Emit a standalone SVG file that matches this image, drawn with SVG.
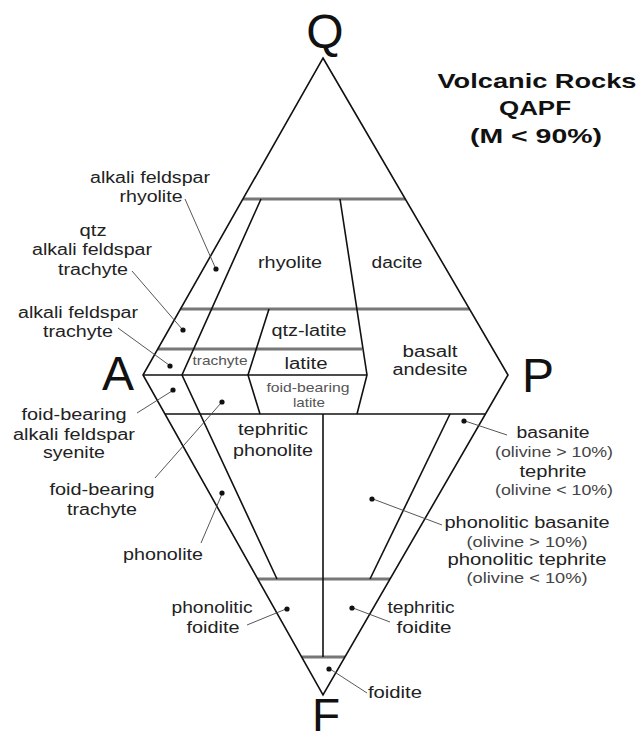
<svg xmlns="http://www.w3.org/2000/svg" width="639" height="742" viewBox="0 0 639 742">
<style>
text{font-family:"Liberation Sans",Arial,Helvetica,sans-serif;text-anchor:middle;}
.big{font-size:48px;fill:#111;}
.title{font-size:21px;font-weight:bold;fill:#111;}
.lb{font-size:16px;fill:#222;}
.sm{font-size:13px;fill:#555;}
.ol{font-size:14px;fill:#444;}
.edge{fill:none;stroke:#111;stroke-width:1.6;stroke-linejoin:miter;}
.gl{stroke:#777;stroke-width:3;}
.bl{fill:none;stroke:#111;stroke-width:1.6;}
.ld{stroke:#444;stroke-width:0.9;fill:none;}
.dot{fill:#111;}
</style>
<rect width="639" height="742" fill="#fff"/>
<g id="frame">
<line class="gl" x1="243" y1="199" x2="405" y2="199"/>
<line class="gl" x1="180.5" y1="309" x2="469.5" y2="309"/>
<line class="gl" x1="158" y1="349" x2="362" y2="349"/>
<line class="gl" x1="258" y1="579" x2="390" y2="579"/>
<line class="gl" x1="302" y1="657" x2="345" y2="657"/>
<line class="bl" x1="143" y1="375" x2="367" y2="375"/>
<line class="bl" x1="165" y1="414" x2="485.5" y2="414"/>
<polyline class="bl" points="261,199 182,375 277,579"/>
<polyline class="bl" points="269,309 248,375 260,414"/>
<polyline class="bl" points="340,199 367,375 357,414"/>
<line class="bl" x1="323" y1="414" x2="323" y2="657"/>
<line class="bl" x1="450" y1="414" x2="370" y2="579"/>
<polygon class="edge" points="323,58 508,375 323,695 143,375"/>
</g>
<g id="vertex-labels">
<text class="big" x="325" y="48">Q</text>
<text class="big" x="118" y="390">A</text>
<text class="big" x="538" y="392">P</text>
<text class="big" x="326" y="731" style="font-size:46px">F</text>
</g>
<g id="title">
<text class="title" x="537" y="88" textLength="199" lengthAdjust="spacingAndGlyphs">Volcanic Rocks</text>
<text class="title" x="535" y="115" textLength="72" lengthAdjust="spacingAndGlyphs">QAPF</text>
<text class="title" x="536" y="143" textLength="132" lengthAdjust="spacingAndGlyphs">(M &lt; 90%)</text>
</g>
<g id="connectors">
<line class="ld" x1="185" y1="199" x2="215" y2="267"/>
<line class="ld" x1="132" y1="271" x2="182" y2="329"/>
<line class="ld" x1="118" y1="328" x2="169" y2="365"/>
<line class="ld" x1="137" y1="413" x2="172" y2="391"/>
<line class="ld" x1="155" y1="478" x2="221" y2="403"/>
<line class="ld" x1="201" y1="543" x2="222" y2="494"/>
<line class="ld" x1="507" y1="435" x2="465" y2="421"/>
<line class="ld" x1="442" y1="525" x2="373" y2="499"/>
<line class="ld" x1="247" y1="625" x2="286" y2="609"/>
<line class="ld" x1="390" y1="622" x2="353" y2="608"/>
<line class="ld" x1="367" y1="693" x2="330" y2="669"/>
</g>
<g id="alkali-feldspar-rhyolite">
<text class="lb" x="150" y="183" textLength="120" lengthAdjust="spacingAndGlyphs">alkali feldspar</text>
<text class="lb" x="151" y="202" textLength="63" lengthAdjust="spacingAndGlyphs">rhyolite</text>
<circle class="dot" cx="216" cy="269" r="2.6"/>
</g>
<g id="qtz-alkali-feldspar-trachyte">
<text class="lb" x="93" y="236" textLength="27" lengthAdjust="spacingAndGlyphs">qtz</text>
<text class="lb" x="92" y="255" textLength="120" lengthAdjust="spacingAndGlyphs">alkali feldspar</text>
<text class="lb" x="93" y="275" textLength="70" lengthAdjust="spacingAndGlyphs">trachyte</text>
<circle class="dot" cx="183" cy="330" r="2.6"/>
</g>
<g id="alkali-feldspar-trachyte">
<text class="lb" x="78" y="318" textLength="120" lengthAdjust="spacingAndGlyphs">alkali feldspar</text>
<text class="lb" x="78" y="337" textLength="70" lengthAdjust="spacingAndGlyphs">trachyte</text>
<circle class="dot" cx="170" cy="366" r="2.6"/>
</g>
<g id="foid-bearing-alkali-feldspar-syenite">
<text class="lb" x="74" y="420" textLength="105" lengthAdjust="spacingAndGlyphs">foid-bearing</text>
<text class="lb" x="74" y="440" textLength="122" lengthAdjust="spacingAndGlyphs">alkali feldspar</text>
<text class="lb" x="74" y="458" textLength="62" lengthAdjust="spacingAndGlyphs">syenite</text>
<circle class="dot" cx="173" cy="390" r="2.6"/>
</g>
<g id="foid-bearing-trachyte">
<text class="lb" x="102" y="495" textLength="105" lengthAdjust="spacingAndGlyphs">foid-bearing</text>
<text class="lb" x="102" y="515" textLength="70" lengthAdjust="spacingAndGlyphs">trachyte</text>
<circle class="dot" cx="222" cy="402" r="2.6"/>
</g>
<g id="phonolite">
<text class="lb" x="163" y="560" textLength="80" lengthAdjust="spacingAndGlyphs">phonolite</text>
<circle class="dot" cx="222" cy="493" r="2.6"/>
</g>
<g id="rhyolite">
<text class="lb" x="290" y="268" textLength="64" lengthAdjust="spacingAndGlyphs">rhyolite</text>
</g>
<g id="dacite">
<text class="lb" x="397" y="268" textLength="51" lengthAdjust="spacingAndGlyphs">dacite</text>
</g>
<g id="qtz-latite">
<text class="lb" x="309" y="336" textLength="75" lengthAdjust="spacingAndGlyphs">qtz-latite</text>
</g>
<g id="latite">
<text class="lb" x="306" y="369" textLength="43" lengthAdjust="spacingAndGlyphs">latite</text>
</g>
<g id="trachyte">
<text class="sm" x="220" y="365" textLength="55" lengthAdjust="spacingAndGlyphs">trachyte</text>
</g>
<g id="foid-bearing-latite">
<text class="sm" x="308" y="392" textLength="83" lengthAdjust="spacingAndGlyphs">foid-bearing</text>
<text class="sm" x="309" y="407" textLength="32" lengthAdjust="spacingAndGlyphs">latite</text>
</g>
<g id="basalt-andesite">
<text class="lb" x="430" y="357" textLength="55" lengthAdjust="spacingAndGlyphs">basalt</text>
<text class="lb" x="430" y="375" textLength="75" lengthAdjust="spacingAndGlyphs">andesite</text>
</g>
<g id="tephritic-phonolite">
<text class="lb" x="273" y="435" textLength="70" lengthAdjust="spacingAndGlyphs">tephritic</text>
<text class="lb" x="273" y="456" textLength="80" lengthAdjust="spacingAndGlyphs">phonolite</text>
</g>
<g id="basanite-tephrite">
<text class="lb" x="553" y="438" textLength="73" lengthAdjust="spacingAndGlyphs">basanite</text>
<text class="ol" x="554" y="457" textLength="118" lengthAdjust="spacingAndGlyphs">(olivine &gt; 10%)</text>
<text class="lb" x="553" y="477" textLength="67" lengthAdjust="spacingAndGlyphs">tephrite</text>
<text class="ol" x="554" y="495" textLength="118" lengthAdjust="spacingAndGlyphs">(olivine &lt; 10%)</text>
<circle class="dot" cx="464" cy="421" r="2.6"/>
</g>
<g id="phonolitic-basanite-tephrite">
<text class="lb" x="527" y="528" textLength="165" lengthAdjust="spacingAndGlyphs">phonolitic basanite</text>
<text class="ol" x="527" y="547" textLength="121" lengthAdjust="spacingAndGlyphs">(olivine &gt; 10%)</text>
<text class="lb" x="527" y="565" textLength="159" lengthAdjust="spacingAndGlyphs">phonolitic tephrite</text>
<text class="ol" x="527" y="583" textLength="121" lengthAdjust="spacingAndGlyphs">(olivine &lt; 10%)</text>
<circle class="dot" cx="372" cy="499" r="2.6"/>
</g>
<g id="phonolitic-foidite">
<text class="lb" x="212" y="613" textLength="81" lengthAdjust="spacingAndGlyphs">phonolitic</text>
<text class="lb" x="213" y="633" textLength="53" lengthAdjust="spacingAndGlyphs">foidite</text>
<circle class="dot" cx="287" cy="609" r="2.6"/>
</g>
<g id="tephritic-foidite">
<text class="lb" x="421" y="613" textLength="67" lengthAdjust="spacingAndGlyphs">tephritic</text>
<text class="lb" x="424" y="633" textLength="55" lengthAdjust="spacingAndGlyphs">foidite</text>
<circle class="dot" cx="352" cy="608" r="2.6"/>
</g>
<g id="foidite">
<text class="lb" x="395" y="698" textLength="54" lengthAdjust="spacingAndGlyphs">foidite</text>
<circle class="dot" cx="329" cy="669" r="2.6"/>
</g>
</svg>
